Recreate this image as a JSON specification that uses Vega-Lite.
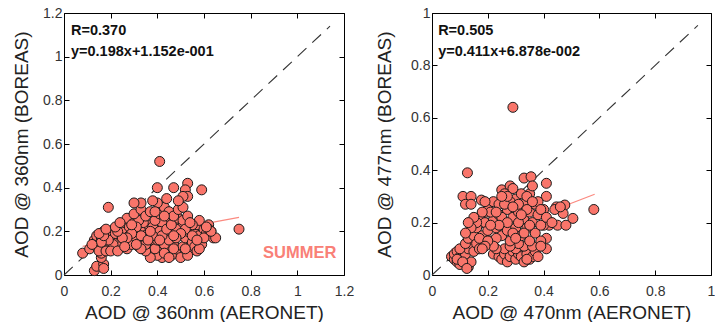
{
  "$schema": "https://vega.github.io/schema/vega-lite/v6.json",
  "autosize": {"type": "pad"},
  "padding": {"left": 12, "top": 6, "right": 0, "bottom": 0},
  "background": "white",
  "spacing": 88,
  "bounds": "flush",
  "config": {
    "font": "Liberation Sans",
    "view": {"stroke": null},
    "axis": {
      "grid": false,
      "domainColor": "#000",
      "domainWidth": 1,
      "tickColor": "#000",
      "tickSize": -5,
      "tickWidth": 1,
      "labelFlush": false,
      "labelOverlap": false,
      "labelFont": "Liberation Sans",
      "labelFontSize": 14,
      "labelColor": "#333",
      "titleFont": "Liberation Sans",
      "titleFontSize": 19,
      "titleFontWeight": "normal",
      "titleColor": "#222",
      "labelPadding": 14
    }
  },
  "datasets": {
    "summer": [
      {"x":0.41,"y":0.52},{"x":0.40,"y":0.40},{"x":0.47,"y":0.40},{"x":0.53,"y":0.42},{"x":0.52,"y":0.39},{"x":0.59,"y":0.39},{"x":0.53,"y":0.36},{"x":0.19,"y":0.31},{"x":0.75,"y":0.21},{"x":0.08,"y":0.10},{"x":0.11,"y":0.12},{"x":0.13,"y":0.02},{"x":0.14,"y":0.04},{"x":0.17,"y":0.05},{"x":0.16,"y":0.08},{"x":0.16,"y":0.10},{"x":0.17,"y":0.03},
      {"x":0.13,"y":0.16},{"x":0.14,"y":0.18},{"x":0.15,"y":0.14},{"x":0.16,"y":0.17},{"x":0.17,"y":0.13},{"x":0.18,"y":0.15},{"x":0.19,"y":0.19},{"x":0.17,"y":0.20},{"x":0.20,"y":0.14},{"x":0.21,"y":0.17},{"x":0.22,"y":0.12},{"x":0.23,"y":0.15},{"x":0.24,"y":0.18},{"x":0.25,"y":0.21},{"x":0.14,"y":0.13},{"x":0.15,"y":0.11},{"x":0.18,"y":0.11},{"x":0.20,"y":0.20},{"x":0.22,"y":0.19},{"x":0.24,"y":0.13},{"x":0.26,"y":0.16},{"x":0.27,"y":0.12},{"x":0.28,"y":0.18},{"x":0.29,"y":0.14},{"x":0.26,"y":0.24},{"x":0.28,"y":0.22},{"x":0.27,"y":0.26},{"x":0.30,"y":0.20},{"x":0.31,"y":0.17},{"x":0.32,"y":0.13},{"x":0.30,"y":0.24},{"x":0.33,"y":0.21},{"x":0.34,"y":0.15},{"x":0.35,"y":0.18},{"x":0.36,"y":0.23},{"x":0.37,"y":0.12},{"x":0.38,"y":0.10},{"x":0.39,"y":0.16},{"x":0.40,"y":0.19},{"x":0.41,"y":0.13},{"x":0.42,"y":0.08},{"x":0.40,"y":0.09},{"x":0.43,"y":0.22},{"x":0.44,"y":0.17},{"x":0.45,"y":0.12},{"x":0.46,"y":0.20},{"x":0.47,"y":0.15},{"x":0.48,"y":0.10},{"x":0.49,"y":0.18},{"x":0.50,"y":0.22},{"x":0.51,"y":0.13},{"x":0.52,"y":0.17},{"x":0.53,"y":0.20},{"x":0.54,"y":0.11},{"x":0.55,"y":0.15},{"x":0.56,"y":0.19},{"x":0.57,"y":0.23},{"x":0.58,"y":0.18},{"x":0.59,"y":0.14},{"x":0.60,"y":0.21},{"x":0.61,"y":0.19},{"x":0.62,"y":0.23},{"x":0.63,"y":0.20},{"x":0.64,"y":0.17},{"x":0.58,"y":0.25},{"x":0.56,"y":0.13},{"x":0.50,"y":0.08},{"x":0.46,"y":0.09},{"x":0.44,"y":0.25},{"x":0.42,"y":0.24},{"x":0.38,"y":0.22},{"x":0.36,"y":0.19},{"x":0.34,"y":0.24},{"x":0.32,"y":0.25},{"x":0.37,"y":0.08},{"x":0.39,"y":0.12},{"x":0.41,"y":0.20},{"x":0.45,"y":0.19},{"x":0.47,"y":0.24},{"x":0.49,"y":0.26},{"x":0.51,"y":0.25},{"x":0.53,"y":0.27},{"x":0.55,"y":0.23},{"x":0.48,"y":0.21},{"x":0.52,"y":0.21},{"x":0.43,"y":0.14},{"x":0.35,"y":0.11},{"x":0.33,"y":0.18},{"x":0.31,"y":0.22},{"x":0.29,"y":0.19},{"x":0.27,"y":0.17},{"x":0.25,"y":0.17},{"x":0.23,"y":0.20},{"x":0.21,"y":0.14},{"x":0.19,"y":0.16},{"x":0.16,"y":0.15},{"x":0.17,"y":0.18},{"x":0.20,"y":0.11},{"x":0.23,"y":0.11},{"x":0.26,"y":0.13},{"x":0.35,"y":0.14},{"x":0.45,"y":0.16},{"x":0.55,"y":0.18},{"x":0.60,"y":0.17},{"x":0.62,"y":0.21},{"x":0.57,"y":0.11},{"x":0.53,"y":0.09},{"x":0.47,"y":0.12},{"x":0.40,"y":0.16},{"x":0.38,"y":0.18},{"x":0.36,"y":0.16},{"x":0.42,"y":0.18},{"x":0.44,"y":0.21},{"x":0.46,"y":0.23},{"x":0.50,"y":0.19},{"x":0.54,"y":0.24},{"x":0.48,"y":0.17},{"x":0.15,"y":0.19},{"x":0.12,"y":0.14},{"x":0.18,"y":0.21},{"x":0.22,"y":0.22},{"x":0.24,"y":0.24},{"x":0.29,"y":0.23},{"x":0.30,"y":0.28},{"x":0.33,"y":0.30},{"x":0.35,"y":0.27},{"x":0.37,"y":0.29},{"x":0.39,"y":0.25},{"x":0.41,"y":0.28},{"x":0.43,"y":0.31},{"x":0.45,"y":0.29},{"x":0.47,"y":0.27},{"x":0.49,"y":0.30},{"x":0.51,"y":0.31},{"x":0.51,"y":0.36},{"x":0.40,"y":0.33},{"x":0.38,"y":0.34},{"x":0.33,"y":0.33},{"x":0.30,"y":0.33},{"x":0.44,"y":0.35},{"x":0.49,"y":0.34},{"x":0.65,"y":0.17},{"x":0.63,"y":0.20},
      {"x":0.43,"y":0.10},{"x":0.45,"y":0.08},{"x":0.52,"y":0.12},{"x":0.58,"y":0.12},{"x":0.41,"y":0.16},{"x":0.47,"y":0.18},{"x":0.37,"y":0.20},{"x":0.33,"y":0.12},{"x":0.31,"y":0.14},{"x":0.57,"y":0.16},{"x":0.61,"y":0.22},{"x":0.43,"y":0.27},{"x":0.39,"y":0.29}
    ],
    "second": [
      {"x":0.29,"y":0.64},{"x":0.127,"y":0.39},{"x":0.33,"y":0.37},{"x":0.355,"y":0.375},{"x":0.41,"y":0.35},{"x":0.41,"y":0.30},{"x":0.58,"y":0.25},{"x":0.505,"y":0.216},{"x":0.476,"y":0.267},{"x":0.446,"y":0.26},{"x":0.47,"y":0.235},{"x":0.45,"y":0.19},{"x":0.48,"y":0.19},{"x":0.42,"y":0.19},{"x":0.40,"y":0.19},{"x":0.41,"y":0.14},{"x":0.39,"y":0.13},{"x":0.41,"y":0.10},{"x":0.40,"y":0.25},
      {"x":0.111,"y":0.30},{"x":0.14,"y":0.30},{"x":0.12,"y":0.27},{"x":0.14,"y":0.27},{"x":0.177,"y":0.286},{"x":0.195,"y":0.24},{"x":0.135,"y":0.20},{"x":0.25,"y":0.325},{"x":0.28,"y":0.34},
      {"x":0.07,"y":0.07},{"x":0.08,"y":0.06},{"x":0.09,"y":0.05},{"x":0.10,"y":0.04},{"x":0.11,"y":0.06},{"x":0.12,"y":0.05},{"x":0.13,"y":0.03},{"x":0.14,"y":0.05},{"x":0.08,"y":0.08},{"x":0.09,"y":0.09},{"x":0.10,"y":0.07},{"x":0.11,"y":0.09},{"x":0.12,"y":0.08},{"x":0.13,"y":0.10},{"x":0.14,"y":0.12},{"x":0.15,"y":0.09},{"x":0.10,"y":0.10},{"x":0.12,"y":0.12},{"x":0.13,"y":0.14},{"x":0.15,"y":0.15},{"x":0.16,"y":0.12},{"x":0.17,"y":0.10},{"x":0.09,"y":0.06},{"x":0.11,"y":0.05},{"x":0.125,"y":0.025},
      {"x":0.22,"y":0.08},{"x":0.24,"y":0.07},{"x":0.25,"y":0.06},{"x":0.26,"y":0.08},{"x":0.27,"y":0.05},{"x":0.28,"y":0.07},{"x":0.29,"y":0.09},{"x":0.30,"y":0.06},{"x":0.31,"y":0.08},{"x":0.32,"y":0.07},{"x":0.33,"y":0.05},{"x":0.34,"y":0.08},{"x":0.35,"y":0.06},{"x":0.36,"y":0.07},{"x":0.37,"y":0.09},{"x":0.38,"y":0.07},{"x":0.26,"y":0.10},{"x":0.30,"y":0.10},{"x":0.33,"y":0.11},{"x":0.36,"y":0.11},{"x":0.39,"y":0.11},{"x":0.35,"y":0.13},{"x":0.31,"y":0.12},{"x":0.28,"y":0.11},{"x":0.23,"y":0.10},{"x":0.34,"y":0.06},
      {"x":0.16,"y":0.18},{"x":0.17,"y":0.22},{"x":0.18,"y":0.15},{"x":0.19,"y":0.20},{"x":0.20,"y":0.25},{"x":0.20,"y":0.17},{"x":0.21,"y":0.13},{"x":0.22,"y":0.21},{"x":0.23,"y":0.18},{"x":0.22,"y":0.28},{"x":0.24,"y":0.23},{"x":0.25,"y":0.15},{"x":0.26,"y":0.20},{"x":0.27,"y":0.25},{"x":0.27,"y":0.17},{"x":0.28,"y":0.13},{"x":0.29,"y":0.22},{"x":0.30,"y":0.29},{"x":0.30,"y":0.18},{"x":0.31,"y":0.24},{"x":0.32,"y":0.15},{"x":0.33,"y":0.21},{"x":0.33,"y":0.27},{"x":0.34,"y":0.18},{"x":0.35,"y":0.24},{"x":0.35,"y":0.31},{"x":0.36,"y":0.20},{"x":0.37,"y":0.27},{"x":0.37,"y":0.16},{"x":0.38,"y":0.23},{"x":0.39,"y":0.19},{"x":0.32,"y":0.31},{"x":0.29,"y":0.33},{"x":0.26,"y":0.31},{"x":0.24,"y":0.27},{"x":0.28,"y":0.28},{"x":0.31,"y":0.27},{"x":0.34,"y":0.30},{"x":0.36,"y":0.34},{"x":0.38,"y":0.28},{"x":0.21,"y":0.24},{"x":0.19,"y":0.28},{"x":0.18,"y":0.24},{"x":0.16,"y":0.20},{"x":0.17,"y":0.14},{"x":0.25,"y":0.22},{"x":0.27,"y":0.20},{"x":0.29,"y":0.16},{"x":0.31,"y":0.20},{"x":0.33,"y":0.16},{"x":0.35,"y":0.19},{"x":0.30,"y":0.14},{"x":0.26,"y":0.27},{"x":0.24,"y":0.19},{"x":0.23,"y":0.14},{"x":0.22,"y":0.11},{"x":0.20,"y":0.13},{"x":0.19,"y":0.11},{"x":0.18,"y":0.10},{"x":0.15,"y":0.22},{"x":0.14,"y":0.18},{"x":0.13,"y":0.20},{"x":0.12,"y":0.16},{"x":0.39,"y":0.25},{"x":0.41,"y":0.22},{"x":0.43,"y":0.20},{"x":0.44,"y":0.25},{"x":0.46,"y":0.26},{"x":0.36,"y":0.28},{"x":0.34,"y":0.25},{"x":0.27,"y":0.30},{"x":0.23,"y":0.24},{"x":0.21,"y":0.19},{"x":0.25,"y":0.30},{"x":0.32,"y":0.23},{"x":0.29,"y":0.26}
    ]
  },
  "hconcat": [
    {
      "width": 280,
      "height": 262,
      "resolve": {"axis": {"x": "independent", "y": "independent"}},
      "layer": [
        {
          "data": {"values": [{"x": 0, "y": 0}, {"x": 1.14, "y": 1.14}]},
          "mark": {"type": "line", "color": "#333", "strokeWidth": 1.1, "strokeDash": [12, 8]},
          "encoding": {
            "x": {"field": "x", "type": "quantitative", "scale": {"domain": [0, 1.2], "nice": false, "zero": false}, "axis": {"orient": "top", "labels": false, "title": null, "values": [0, 0.2, 0.4, 0.6, 0.8, 1, 1.2]}},
            "y": {"field": "y", "type": "quantitative", "scale": {"domain": [0, 1.2], "nice": false, "zero": false}, "axis": {"orient": "right", "labels": false, "title": null, "values": [0, 0.2, 0.4, 0.6, 0.8, 1, 1.2]}}
          }
        },
        {
          "data": {"values": [{"x": 0.08, "y": 0.131}, {"x": 0.75, "y": 0.264}]},
          "mark": {"type": "line", "color": "#fb8a80", "strokeWidth": 1.2},
          "encoding": {
            "x": {"field": "x", "type": "quantitative", "axis": null},
            "y": {"field": "y", "type": "quantitative", "axis": null}
          }
        },
        {
          "data": {"name": "summer"},
          "mark": {"type": "circle", "size": 100, "fill": "#f9756a", "fillOpacity": 1, "stroke": "#1a1a1a", "strokeWidth": 1},
          "encoding": {
            "x": {"field": "x", "type": "quantitative", "axis": {"title": "AOD @ 360nm (AERONET)", "values": [0, 0.2, 0.4, 0.6, 0.8, 1, 1.2], "format": ".1~f", "titlePadding": 5}},
            "y": {"field": "y", "type": "quantitative", "axis": {"title": "AOD @ 360nm (BOREAS)", "values": [0, 0.2, 0.4, 0.6, 0.8, 1, 1.2], "format": ".1~f", "titlePadding": 11, "labelPadding": 7}}
          }
        },
        {
          "data": {"values": [
            {"x": 0.03, "y": 1.099, "label": "R=0.370"},
            {"x": 0.03, "y": 1.003, "label": "y=0.198x+1.152e-001"}
          ]},
          "mark": {"type": "text", "align": "left", "baseline": "alphabetic", "fontWeight": "bold", "fontSize": 14.5, "color": "#111"},
          "encoding": {
            "x": {"field": "x", "type": "quantitative", "axis": null},
            "y": {"field": "y", "type": "quantitative", "axis": null},
            "text": {"field": "label"}
          }
        },
        {
          "data": {"values": [{"x": 1.01, "y": 0.078, "label": "SUMMER"}]},
          "mark": {"type": "text", "align": "center", "baseline": "alphabetic", "fontWeight": "bold", "fontSize": 16.5, "color": "#f98077"},
          "encoding": {
            "x": {"field": "x", "type": "quantitative", "axis": null},
            "y": {"field": "y", "type": "quantitative", "axis": null},
            "text": {"field": "label"}
          }
        }
      ]
    },
    {
      "width": 279,
      "height": 262,
      "resolve": {"axis": {"x": "independent", "y": "independent"}},
      "layer": [
        {
          "data": {"values": [{"x": 0, "y": 0}, {"x": 0.953, "y": 0.953}]},
          "mark": {"type": "line", "color": "#333", "strokeWidth": 1.1, "strokeDash": [12, 8]},
          "encoding": {
            "x": {"field": "x", "type": "quantitative", "scale": {"domain": [0, 1], "nice": false, "zero": false}, "axis": {"orient": "top", "labels": false, "title": null, "values": [0, 0.2, 0.4, 0.6, 0.8, 1]}},
            "y": {"field": "y", "type": "quantitative", "scale": {"domain": [0, 1], "nice": false, "zero": false}, "axis": {"orient": "right", "labels": false, "title": null, "values": [0, 0.2, 0.4, 0.6, 0.8, 1]}}
          }
        },
        {
          "data": {"values": [{"x": 0.07, "y": 0.0976}, {"x": 0.583, "y": 0.3084}]},
          "mark": {"type": "line", "color": "#fb8a80", "strokeWidth": 1.2},
          "encoding": {
            "x": {"field": "x", "type": "quantitative", "axis": null},
            "y": {"field": "y", "type": "quantitative", "axis": null}
          }
        },
        {
          "data": {"name": "second"},
          "mark": {"type": "circle", "size": 100, "fill": "#f9756a", "fillOpacity": 1, "stroke": "#1a1a1a", "strokeWidth": 1},
          "encoding": {
            "x": {"field": "x", "type": "quantitative", "axis": {"title": "AOD @ 470nm (AERONET)", "values": [0, 0.2, 0.4, 0.6, 0.8, 1], "format": ".1~f", "titlePadding": 5}},
            "y": {"field": "y", "type": "quantitative", "axis": {"title": "AOD @ 477nm (BOREAS)", "values": [0, 0.2, 0.4, 0.6, 0.8, 1], "format": ".1~f", "titlePadding": 16, "labelPadding": 7}}
          }
        },
        {
          "data": {"values": [
            {"x": 0.022, "y": 0.916, "label": "R=0.505"},
            {"x": 0.022, "y": 0.836, "label": "y=0.411x+6.878e-002"}
          ]},
          "mark": {"type": "text", "align": "left", "baseline": "alphabetic", "fontWeight": "bold", "fontSize": 14.5, "color": "#111"},
          "encoding": {
            "x": {"field": "x", "type": "quantitative", "axis": null},
            "y": {"field": "y", "type": "quantitative", "axis": null},
            "text": {"field": "label"}
          }
        }
      ]
    }
  ]
}
